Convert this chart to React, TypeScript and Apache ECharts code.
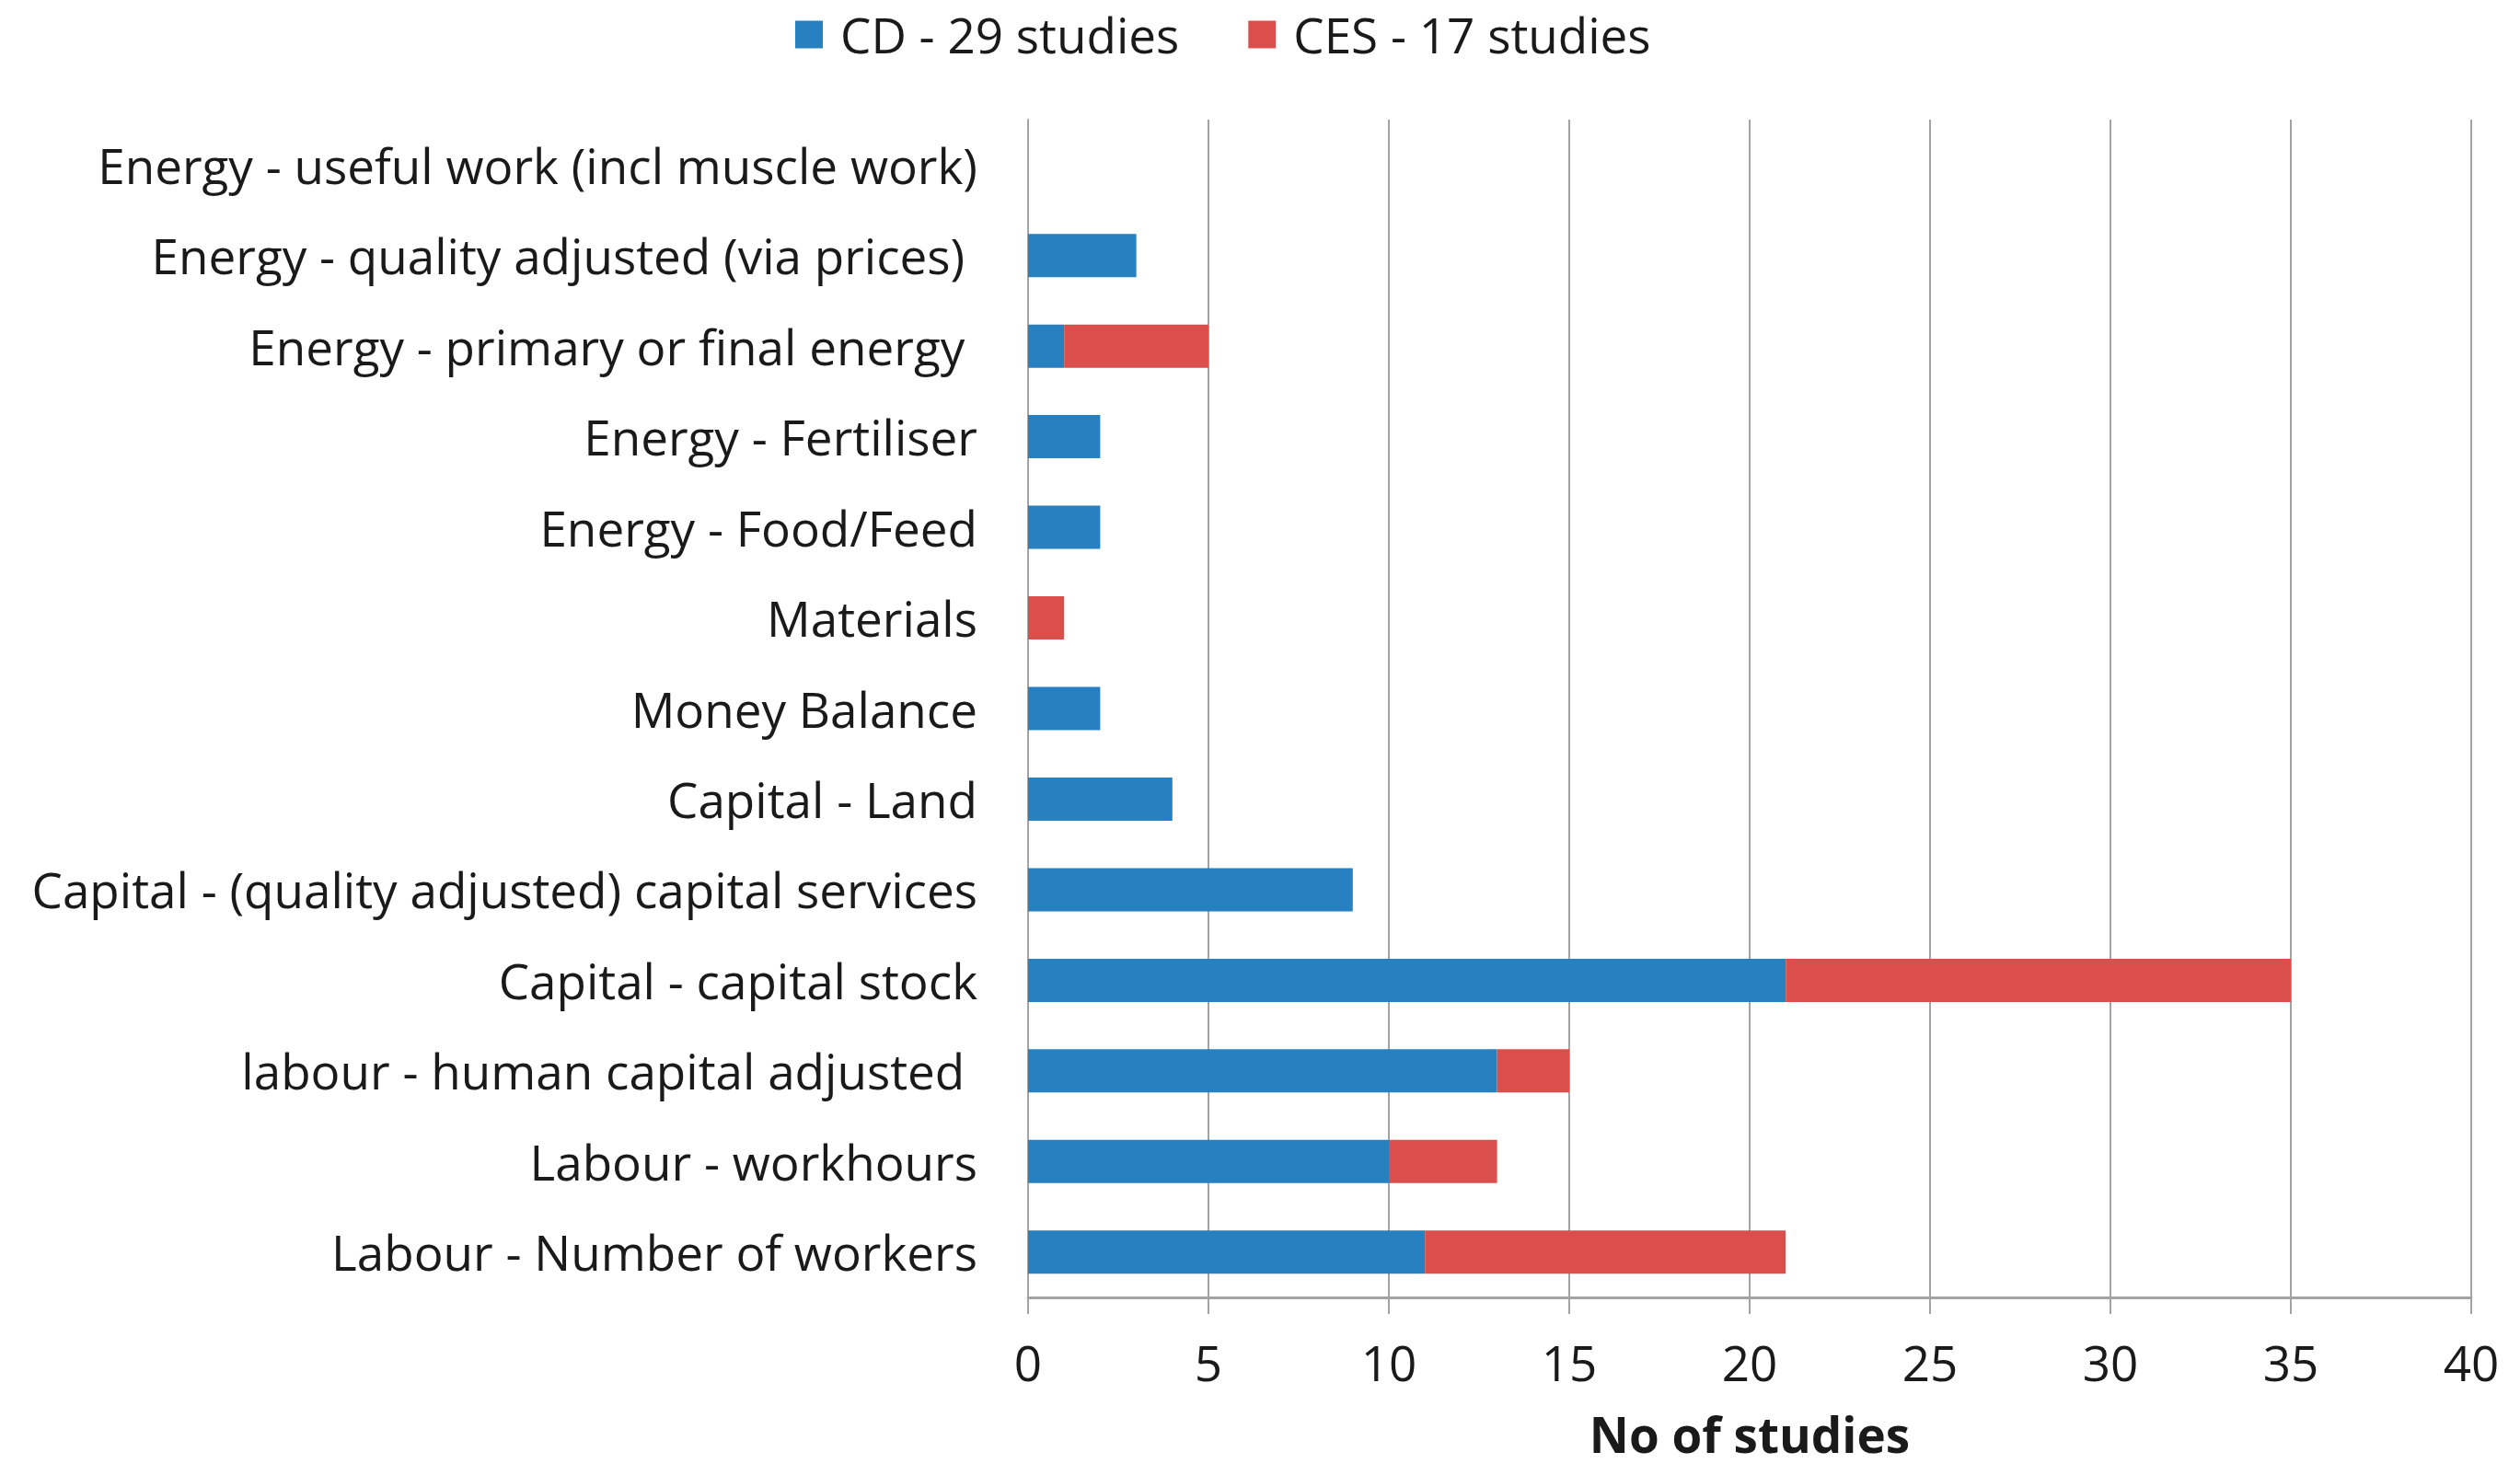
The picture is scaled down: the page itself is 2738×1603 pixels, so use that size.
import { useEffect, useRef } from "react";
import * as echarts from "echarts";

const CATEGORIES = [
  "Energy - useful work (incl muscle work)",
  "Energy - quality adjusted (via prices) ",
  "Energy - primary or final energy ",
  "Energy - Fertiliser",
  "Energy - Food/Feed",
  "Materials",
  "Money Balance",
  "Capital - Land",
  "Capital - (quality adjusted) capital services",
  "Capital - capital stock",
  "labour - human capital adjusted ",
  "Labour - workhours",
  "Labour - Number of workers",
];
const CD = [0, 3, 1, 2, 2, 0, 2, 4, 9, 21, 13, 10, 11];
const CES = [0, 0, 4, 0, 0, 1, 0, 0, 0, 14, 2, 3, 10];
const SERIES_NAMES = ["CD - 29 studies", "CES - 17 studies"];

const FONT = "'Open Sans', Lato, sans-serif";
const INK = "#1a1a1a";
const GRID = "#a3a3a3";
const SIZE = 53;

export default function App() {
  const chartRef = useRef<HTMLDivElement>(null);

  useEffect(() => {
    document.body.style.margin = "0";
    if (!chartRef.current) return;
    const chart = echarts.init(chartRef.current, null, { renderer: "svg" });
    chart.setOption({
      animation: false,
      backgroundColor: "#ffffff",
      textStyle: { fontFamily: FONT, color: INK },
      legend: {
        left: 859,
        top: 6,
        itemWidth: 30,
        itemHeight: 30,
        itemGap: 75,
        icon: "rect",
        textStyle: { fontFamily: FONT, fontSize: SIZE, color: INK, padding: [0, 0, 0, 14] },
        data: SERIES_NAMES,
      },
      grid: { left: 1117, right: 53, top: 130, bottom: 193, containLabel: false },
      xAxis: {
        type: "value",
        min: 0,
        max: 40,
        interval: 5,
        name: "No of studies",
        nameLocation: "middle",
        nameGap: 122,
        nameTextStyle: { fontFamily: FONT, fontSize: SIZE, fontWeight: "bold", color: INK },
        axisLine: { show: true, lineStyle: { color: GRID, width: 3 } },
        axisTick: { show: true, length: 18, lineStyle: { color: GRID, width: 2 } },
        axisLabel: { fontFamily: FONT, fontSize: SIZE, color: INK, margin: 44 },
        splitLine: { show: true, lineStyle: { color: GRID, width: 2 } },
      },
      yAxis: {
        type: "category",
        inverse: true,
        data: CATEGORIES,
        axisLine: { show: true, lineStyle: { color: GRID, width: 2 } },
        axisTick: { show: false },
        axisLabel: { fontFamily: FONT, fontSize: SIZE, color: INK, margin: 55 },
      },
      series: [
        {
          name: SERIES_NAMES[0],
          type: "bar",
          stack: "total",
          barWidth: 47,
          data: CD,
          itemStyle: { color: "#2780c0" },
        },
        {
          name: SERIES_NAMES[1],
          type: "bar",
          stack: "total",
          barWidth: 47,
          data: CES,
          itemStyle: { color: "#da4f4b" },
        },
      ],
    });
    return () => chart.dispose();
  }, []);

  return <div ref={chartRef} style={{ width: 2738, height: 1603 }} />;
}
